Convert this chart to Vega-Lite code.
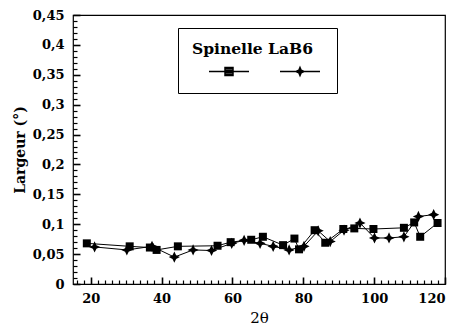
{
  "$schema": "https://vega.github.io/schema/vega-lite/v6.json",
  "width": 372,
  "height": 269,
  "autosize": {"type": "none"},
  "padding": {"left": 73, "top": 15, "right": 13, "bottom": 47},
  "background": "white",
  "config": {
    "view": {"stroke": "black", "strokeWidth": 1.2},
    "font": "DejaVu Serif"
  },
  "data": {"values": [
    {"x": 18.9, "y": 0.068, "serie": "Spinelle"},
    {"x": 31.0, "y": 0.063, "serie": "Spinelle"},
    {"x": 36.7, "y": 0.061, "serie": "Spinelle"},
    {"x": 38.6, "y": 0.057, "serie": "Spinelle"},
    {"x": 44.6, "y": 0.063, "serie": "Spinelle"},
    {"x": 55.8, "y": 0.064, "serie": "Spinelle"},
    {"x": 59.5, "y": 0.070, "serie": "Spinelle"},
    {"x": 65.3, "y": 0.074, "serie": "Spinelle"},
    {"x": 68.6, "y": 0.079, "serie": "Spinelle"},
    {"x": 74.3, "y": 0.065, "serie": "Spinelle"},
    {"x": 77.5, "y": 0.076, "serie": "Spinelle"},
    {"x": 78.8, "y": 0.058, "serie": "Spinelle"},
    {"x": 83.2, "y": 0.090, "serie": "Spinelle"},
    {"x": 86.2, "y": 0.069, "serie": "Spinelle"},
    {"x": 91.3, "y": 0.092, "serie": "Spinelle"},
    {"x": 94.4, "y": 0.093, "serie": "Spinelle"},
    {"x": 99.8, "y": 0.092, "serie": "Spinelle"},
    {"x": 108.4, "y": 0.094, "serie": "Spinelle"},
    {"x": 111.3, "y": 0.103, "serie": "Spinelle"},
    {"x": 113.0, "y": 0.079, "serie": "Spinelle"},
    {"x": 117.9, "y": 0.102, "serie": "Spinelle"},
    {"x": 21.1, "y": 0.062, "serie": "LaB6"},
    {"x": 30.2, "y": 0.057, "serie": "LaB6"},
    {"x": 37.3, "y": 0.063, "serie": "LaB6"},
    {"x": 43.6, "y": 0.045, "serie": "LaB6"},
    {"x": 48.9, "y": 0.057, "serie": "LaB6"},
    {"x": 54.1, "y": 0.056, "serie": "LaB6"},
    {"x": 59.8, "y": 0.068, "serie": "LaB6"},
    {"x": 63.3, "y": 0.073, "serie": "LaB6"},
    {"x": 67.8, "y": 0.068, "serie": "LaB6"},
    {"x": 71.5, "y": 0.063, "serie": "LaB6"},
    {"x": 76.0, "y": 0.057, "serie": "LaB6"},
    {"x": 80.2, "y": 0.063, "serie": "LaB6"},
    {"x": 84.2, "y": 0.089, "serie": "LaB6"},
    {"x": 87.6, "y": 0.071, "serie": "LaB6"},
    {"x": 91.5, "y": 0.090, "serie": "LaB6"},
    {"x": 96.0, "y": 0.102, "serie": "LaB6"},
    {"x": 100.1, "y": 0.077, "serie": "LaB6"},
    {"x": 104.2, "y": 0.077, "serie": "LaB6"},
    {"x": 108.4, "y": 0.079, "serie": "LaB6"},
    {"x": 112.5, "y": 0.113, "serie": "LaB6"},
    {"x": 116.8, "y": 0.116, "serie": "LaB6"}
  ]},
  "resolve": {"scale": {"x": "independent", "y": "independent", "shape": "independent"}, "axis": {"x": "independent", "y": "independent"}},
  "layer": [
    {
      "mark": {"type": "line", "color": "black", "strokeWidth": 1},
      "encoding": {
        "x": {"field": "x", "type": "quantitative", "scale": {"domain": [15, 120], "nice": false, "zero": false},
          "axis": {"orient": "bottom", "title": "2θ", "values": [20, 40, 60, 80, 100, 120], "grid": false,
            "domain": false, "ticks": false, "labelPadding": 8,
            "labelFont": "DejaVu Serif", "labelFontSize": 13, "labelFontWeight": "bold", "labelColor": "black",
            "titleFont": "DejaVu Serif", "titleFontSize": 15, "titleFontWeight": "normal", "titleColor": "black", "titlePadding": 5}},
        "y": {"field": "y", "type": "quantitative", "scale": {"domain": [0, 0.45], "nice": false, "zero": false},
          "axis": {"orient": "left", "title": "Largeur (°)", "values": [0, 0.05, 0.1, 0.15, 0.2, 0.25, 0.3, 0.35, 0.4, 0.45], "grid": false,
            "domain": false, "ticks": false, "labelPadding": 9,
            "labelExpr": "replace(format(datum.value, '.2~f'), '.', ',')",
            "labelFont": "DejaVu Serif", "labelFontSize": 13, "labelFontWeight": "bold", "labelColor": "black",
            "titleFont": "DejaVu Serif", "titleFontSize": 14, "titleFontWeight": "bold", "titleColor": "black", "titlePadding": 5}},
        "detail": {"field": "serie"}
      }
    },
    {
      "mark": {"type": "point", "filled": true, "opacity": 1, "color": "black"},
      "encoding": {
        "x": {"field": "x", "type": "quantitative", "scale": {"domain": [15, 120], "nice": false, "zero": false},
          "axis": {"orient": "top", "offset": -269, "title": null, "labels": false, "domain": false, "grid": false, "tickSize": 7, "tickWidth": 1.6, "tickColor": "black",
            "values": [20, 40, 60, 80, 100, 120]}},
        "y": {"field": "y", "type": "quantitative", "scale": {"domain": [0, 0.45], "nice": false, "zero": false},
          "axis": {"orient": "right", "offset": -372, "title": null, "labels": false, "domain": false, "grid": false, "tickSize": 7, "tickWidth": 1.6, "tickColor": "black",
            "values": [0, 0.05, 0.1, 0.15, 0.2, 0.25, 0.3, 0.35, 0.4, 0.45]}},
        "shape": {"field": "serie", "type": "nominal",
          "scale": {"domain": ["Spinelle", "LaB6"], "range": ["square", "M0,-1.4L0.45,-0.45L1.4,0L0.45,0.45L0,1.4L-0.45,0.45L-1.4,0L-0.45,-0.45Z"]},
          "legend": null},
        "size": {"value": 64}
      }
    },
    {
      "mark": {"type": "point", "filled": false, "opacity": 0, "color": "black"},
      "encoding": {
        "x": {"field": "x", "type": "quantitative", "scale": {"domain": [15, 120], "nice": false, "zero": false},
          "axis": {"orient": "top", "offset": -269, "title": null, "labels": false, "domain": false, "grid": false, "tickSize": 4, "tickWidth": 1.2, "tickColor": "black",
            "values": [16,18,22,24,26,28,30,32,34,36,38,42,44,46,48,50,52,54,56,58,62,64,66,68,70,72,74,76,78,82,84,86,88,90,92,94,96,98,102,104,106,108,110,112,114,116,118]}},
        "y": {"field": "y", "type": "quantitative", "scale": {"domain": [0, 0.45], "nice": false, "zero": false},
          "axis": {"orient": "right", "offset": -372, "title": null, "labels": false, "domain": false, "grid": false, "tickSize": 4, "tickWidth": 1.2, "tickColor": "black",
            "values": [0.01,0.02,0.03,0.04,0.06,0.07,0.08,0.09,0.11,0.12,0.13,0.14,0.16,0.17,0.18,0.19,0.21,0.22,0.23,0.24,0.26,0.27,0.28,0.29,0.31,0.32,0.33,0.34,0.36,0.37,0.38,0.39,0.41,0.42,0.43,0.44]}},
        "shape": {"field": "serie", "type": "nominal",
          "scale": {"domain": ["Spinelle", "LaB6"], "range": [
            "M-5,0H5M-1,-1H1V1H-1ZM-1,-0.6H1M-1,-0.2H1M-1,0.2H1M-1,0.6H1",
            "M-5,0H5M0,-1L0.3,-0.3L1,0L0.3,0.3L0,1L-0.3,0.3L-1,0L-0.3,-0.3ZM0,-0.8V0.8M-0.35,-0.35L0.35,0.35M0.35,-0.35L-0.35,0.35"]},
          "legend": {
            "orient": "none", "legendX": 105, "legendY": 13, "direction": "horizontal",
            "title": "Spinelle LaB6", "titleFont": "DejaVu Serif", "titleFontSize": 15.5, "titleFontWeight": "bold", "titleColor": "black",
            "titlePadding": 9, "padding": 14, "strokeColor": "black", "fillColor": "white", "cornerRadius": 0,
            "labelExpr": "''", "labelFontSize": 1, "symbolSize": 64, "labelOffset": 0, "columnPadding": 11, "symbolOffset": 32,
            "symbolStrokeColor": "black", "symbolStrokeWidth": 1.5, "symbolOpacity": 1
          }},
        "size": {"value": 64}
      }
    }
  ]
}
